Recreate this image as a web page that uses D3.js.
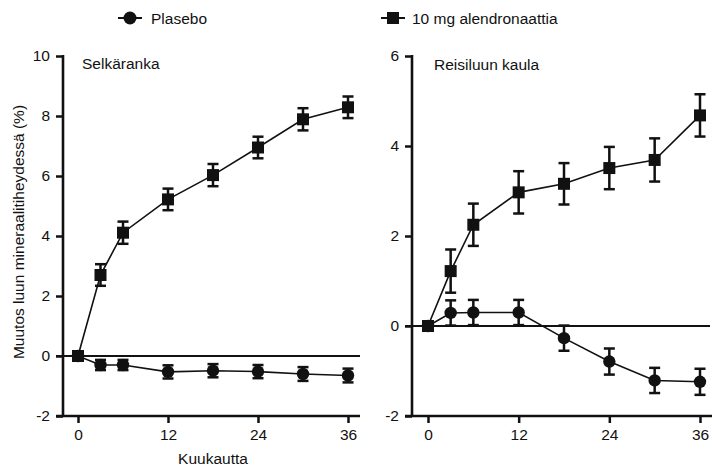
<!DOCTYPE html>
<html><head><meta charset="utf-8">
<script src="https://cdn.jsdelivr.net/npm/d3@7"></script>
<style>body{margin:0;background:#fff}svg{display:block}text{font-family:"Liberation Sans",Arial,sans-serif;fill:#111}</style>
</head><body><svg id="c" width="712" height="466"></svg>
<script>
const months = [0, 3, 6, 12, 18, 24, 30, 36];
const xTicks = [0, 12, 24, 36];
const seriesNames = ["Plasebo", "10 mg alendronaattia"];
const panelTitles = ["Selkäranka", "Reisiluun kaula"];
const yTicksLeft = [-2, 0, 2, 4, 6, 8, 10];
const yTicksRight = [-2, 0, 2, 4, 6];
// Selkäranka
const spinePlacebo = [0, -0.30, -0.30, -0.53, -0.49, -0.52, -0.60, -0.65];
const spinePlaceboErr = [0, 0.17, 0.17, 0.22, 0.22, 0.22, 0.23, 0.23];
const spineAlen = [0, 2.70, 4.11, 5.22, 6.03, 6.95, 7.89, 8.29];
const spineAlenErr = [0, 0.36, 0.37, 0.36, 0.37, 0.36, 0.37, 0.36];
// Reisiluun kaula
const hipPlacebo = [0, 0.29, 0.30, 0.30, -0.27, -0.79, -1.21, -1.24];
const hipPlaceboErr = [0, 0.28, 0.28, 0.28, 0.28, 0.29, 0.28, 0.29];
const hipAlen = [0, 1.22, 2.25, 2.97, 3.16, 3.51, 3.69, 4.68];
const hipAlenErr = [0, 0.48, 0.47, 0.47, 0.46, 0.47, 0.48, 0.47];

const svg = d3.select("#c");
const FS = "15.5px";

function panel(cfg){
  const x = d3.scaleLinear().domain([0,36]).range(cfg.xr);
  const y = d3.scaleLinear().domain(cfg.yd).range([416,56]);
  const g = svg.append("g");
  // y axis
  const ya = g.append("g").attr("transform",`translate(${cfg.ax},0)`)
    .call(d3.axisLeft(y).tickValues(cfg.yt).tickSize(7).tickPadding(6).tickFormat(d3.format("d")));
  // x axis
  const xa = g.append("g").attr("transform","translate(0,416)")
    .call(d3.axisBottom(x).tickValues(xTicks).tickSize(7).tickPadding(6));
  [ya,xa].forEach(a=>{
    a.select(".domain").remove();
    a.selectAll("line").attr("stroke","#111").attr("stroke-width",2.5);
    a.selectAll("text").style("font-size",FS).attr("fill","#111");
  });
  ya.selectAll("text").text(d=>d<0?"-"+Math.abs(d):d);
  g.append("line").attr("x1",cfg.ax).attr("x2",cfg.ax).attr("y1",y.range()[1]-1).attr("y2",417)
    .attr("stroke","#111").attr("stroke-width",2.6);
  g.append("line").attr("x1",cfg.ax-7).attr("x2",cfg.xend).attr("y1",416).attr("y2",416)
    .attr("stroke","#111").attr("stroke-width",2.6);
  // zero line
  g.append("line").attr("x1",cfg.ax-7).attr("x2",cfg.zend).attr("y1",y(0)).attr("y2",y(0))
    .attr("stroke","#111").attr("stroke-width",2);
  g.append("text").attr("x",cfg.tx).attr("y",cfg.ty).style("font-size",FS).text(cfg.title);

  const line = d3.line().x((d,i)=>x(months[i])).y(d=>y(d));
  const drawSeries = (vals, errs, shape) => {
    g.append("path").datum(vals).attr("d",line).attr("fill","none").attr("stroke","#111").attr("stroke-width",1.6);
    const eg = g.append("g");
    vals.forEach((v,i)=>{
      if(errs[i]<=0) return;
      const cx = x(months[i]);
      eg.append("line").attr("x1",cx).attr("x2",cx).attr("y1",y(v-errs[i])).attr("y2",y(v+errs[i])).attr("stroke","#111").attr("stroke-width",2.5);
      [v-errs[i], v+errs[i]].forEach(e=>eg.append("line").attr("x1",cx-5.5).attr("x2",cx+5.5).attr("y1",y(e)).attr("y2",y(e)).attr("stroke","#111").attr("stroke-width",2.5));
    });
    vals.forEach((v,i)=>{
      const cx = x(months[i]), cy = y(v);
      if(shape==="circle") g.append("circle").attr("cx",cx).attr("cy",cy).attr("r",6.2).attr("fill","#111");
      else g.append("rect").attr("x",cx-6).attr("y",cy-6).attr("width",12).attr("height",12).attr("fill","#111");
    });
  };
  drawSeries(cfg.p, cfg.pe, "circle");
  drawSeries(cfg.a, cfg.ae, "rect");
}

panel({xr:[78,348], yd:[-2,10], yt:yTicksLeft, ax:63, xend:360, zend:360, tx:82, ty:69, title:panelTitles[0],
  p:spinePlacebo, pe:spinePlaceboErr, a:spineAlen, ae:spineAlenErr});
panel({xr:[428,700], yd:[-2,6], yt:yTicksRight, ax:412, xend:712, zend:710, tx:434, ty:70, title:panelTitles[1],
  p:hipPlacebo, pe:hipPlaceboErr, a:hipAlen, ae:hipAlenErr});

// axis titles
svg.append("text").attr("transform","translate(24,232) rotate(-90)").attr("text-anchor","middle").style("font-size",FS)
  .text("Muutos luun mineraalitiheydessä (%)");
svg.append("text").attr("x",213).attr("y",464).attr("text-anchor","middle").style("font-size",FS).text("Kuukautta");

// legend
const lg = svg.append("g");
lg.append("line").attr("x1",118).attr("x2",142).attr("y1",18).attr("y2",18).attr("stroke","#111").attr("stroke-width",2);
lg.append("circle").attr("cx",130).attr("cy",18).attr("r",6.5).attr("fill","#111");
lg.append("text").attr("x",151).attr("y",23.5).style("font-size",FS).text(seriesNames[0]);
lg.append("line").attr("x1",381).attr("x2",405).attr("y1",18).attr("y2",18).attr("stroke","#111").attr("stroke-width",2);
lg.append("rect").attr("x",387).attr("y",12).attr("width",12).attr("height",12).attr("fill","#111");
lg.append("text").attr("x",412).attr("y",23.5).style("font-size",FS).text(seriesNames[1]);
</script></body></html>
